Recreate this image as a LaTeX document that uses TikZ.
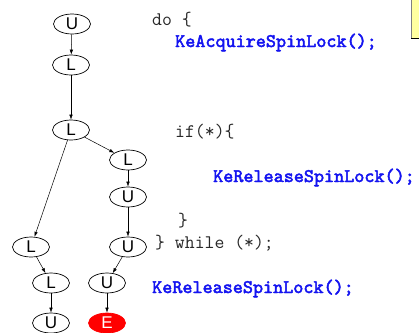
\documentclass[tikz,border=0pt]{standalone}
\usepackage{fontspec}
\setmainfont{Liberation Sans}
\newfontfamily\callfont[Extension=.otf,AutoFakeBold=2.5]{lmmono10-regular}
\usetikzlibrary{shapes.geometric,arrows.meta}
\definecolor{codeblue}{RGB}{20,20,240}
\definecolor{codegray}{RGB}{40,40,40}
\definecolor{notefill}{RGB}{255,255,160}
\tikzset{
  st/.style={ellipse,draw,line width=0.7pt,minimum width=37pt,minimum height=20pt,
    inner sep=0pt,font=\fontsize{17}{17}\selectfont},
  errst/.style={st,draw=red,fill=red,text=white},
  flow/.style={line width=0.5pt,-{Latex[length=5pt,width=3.5pt]}},
  code/.style={anchor=base west,inner sep=0pt,text=codegray,
    font=\ttfamily\fontsize{19.2}{19.2}\selectfont},
  call/.style={code,text=codeblue,font=\callfont\bfseries\fontsize{19.2}{19.2}\selectfont}
}
\begin{document}
\begin{tikzpicture}[x=1pt,y=-1pt]
\useasboundingbox (0,0) rectangle (419,332);
% note box peeking in at the top right
\fill[notefill] (411,-2) rectangle (421,38);
\draw[gray,line width=1.2pt] (411.5,-2) -- (411.5,38);
\draw[black,line width=0.8pt] (411,38) -- (421,38);
% state nodes
\node[st] (u1) at (72,24) {U};
\node[st] (l1) at (71,65) {L};
\node[st] (l2) at (71,130) {L};
\node[st] (l3) at (128,160) {L};
\node[st] (u4) at (128,197) {U};
\node[st] (u5) at (128,247) {U};
\node[st] (la) at (31,247) {L};
\node[st] (lb) at (51,283) {L};
\node[st] (u6) at (107,283) {U};
\node[st] (ub) at (51,323) {U};
\node[errst] (e) at (107,323) {E};
% transitions
\draw[flow] (u1) -- (l1);
\draw[flow] (l1) -- (l2);
\draw[flow] (l2) -- (l3);
\draw[flow] (l2) -- (la);
\draw[flow] (l3) -- (u4);
\draw[flow] (u4) -- (u5);
\draw[flow] (u5) -- (u6);
\draw[flow] (la) -- (lb);
\draw[flow] (lb) -- (ub);
\draw[flow] (u6) -- (e);
% source code
\node[code] (c1) at (152,25) {do \{};
\node[call] (c2) at (175,47) {KeAcquireSpinLock();};
\node[code] (c3) at (175,137) {if(*)\{};
\node[call] (c4) at (213,182) {KeReleaseSpinLock();};
\node[code] (c5) at (178,226) {\}};
\node[code] (c6) at (155,248) {\} while (*);};
\node[call] (c7) at (152,293) {KeReleaseSpinLock();};
\end{tikzpicture}
\end{document}
